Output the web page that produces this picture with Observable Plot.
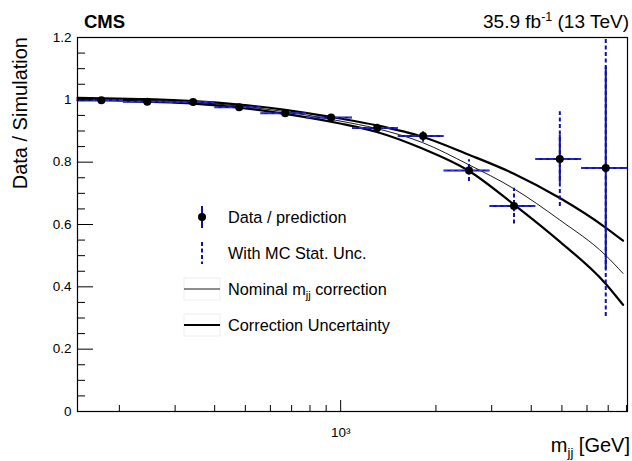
<!DOCTYPE html>
<html><head><meta charset="utf-8">
<script src="https://cdn.jsdelivr.net/npm/d3@7"></script>
<script src="https://cdn.jsdelivr.net/npm/@observablehq/plot@0.6"></script>
<style>
body{margin:0;background:#fff;}
#chart svg{font-family:"Liberation Sans",Arial,Helvetica,sans-serif;}
</style>
</head><body><div id="chart"></div>
<script>
// ---- data ----
const binLow    = [147.5, 206, 287.5, 401, 560, 781, 1090, 1521, 2122, 2962, 4134, 5770];
const binHigh   = [206, 287.5, 401, 560, 781, 1090, 1521, 2122, 2962, 4134, 5770, 8055];
const binCenter = [175.5, 245, 342, 478, 668, 933, 1304, 1821, 2543, 3528, 4924, 6877];
const ratio     = [0.999, 0.994, 0.993, 0.976, 0.957, 0.943, 0.910, 0.884, 0.773, 0.659, 0.810, 0.781];
const dataErr   = [0.002, 0.002, 0.003, 0.004, 0.005, 0.006, 0.008, 0.010, 0.012, 0.018, 0.077, 0.325];
const mcErr     = [0.003, 0.003, 0.004, 0.005, 0.007, 0.009, 0.012, 0.020, 0.035, 0.057, 0.152, 0.476];

const curveMass    = [147.5, 175.5, 245, 342, 478, 668, 996, 1301, 1812, 2530, 3512, 4924, 6850, 7797];
const curveUpper   = [1.006, 1.005, 1.002, 0.996, 0.985, 0.968, 0.940, 0.918, 0.8816, 0.8246, 0.7638, 0.6848, 0.591, 0.548];
const curveNominal = [1.003, 1.002, 0.998, 0.992, 0.980, 0.962, 0.932, 0.9078, 0.863, 0.7926, 0.7158, 0.6144, 0.5024, 0.4432];
const curveLower   = [0.999, 0.999, 0.994, 0.988, 0.975, 0.955, 0.924, 0.897, 0.8438, 0.7734, 0.6656, 0.545, 0.4118, 0.3424];

const yMajor = [0, 0.2, 0.4, 0.6, 0.8, 1, 1.2];
const yMinor = [0.05,0.1,0.15,0.25,0.3,0.35,0.45,0.5,0.55,0.65,0.7,0.75,0.85,0.9,0.95,1.05,1.1,1.15];
const xMajor = [1000];
const xMajorLabels = ["10³"];
const xMinor = [200,300,400,500,600,700,800,900,2000,3000,4000,5000,6000,7000,8000];

const legendLabels = ["Data / prediction", "With MC Stat. Unc.", "Nominal m", "Correction Uncertainty"];

// ---- tables ----
const points = binCenter.map((x, i) => ({
  x, lo: binLow[i], hi: binHigh[i], y: ratio[i],
  dLo: ratio[i] - dataErr[i], dHi: ratio[i] + dataErr[i],
  mLo: ratio[i] - mcErr[i], mHi: ratio[i] + mcErr[i]
}));
const curves = curveMass.map((m, i) => ({m, up: curveUpper[i], nom: curveNominal[i], lo: curveLower[i]}));

const blue = "#1010a8";

const plot = Plot.plot({
  width: 632, height: 461,
  marginLeft: 77, marginRight: 5, marginTop: 37, marginBottom: 50,
  x: {type: "log", domain: [147.5, 8055]},
  y: {domain: [0, 1.2]},
  style: {fontFamily: "'Liberation Sans', Arial, sans-serif", fontSize: "13.5px", color: "#000"},
  marks: [
    Plot.line(curves, {x: "m", y: "up", stroke: "#000", strokeWidth: 2.2, curve: "monotone-x"}),
    Plot.line(curves, {x: "m", y: "lo", stroke: "#000", strokeWidth: 2.2, curve: "monotone-x"}),
    Plot.line(curves, {x: "m", y: "nom", stroke: "#000", strokeWidth: 0.9, curve: "monotone-x"}),
    Plot.ruleY(points, {y: "y", x1: "lo", x2: "hi", stroke: blue, strokeWidth: 2}),
    Plot.ruleY(points, {y: "y", x1: "lo", x2: "hi", stroke: "#3a3aff", strokeWidth: 1, strokeDasharray: "4,3"}),
    Plot.ruleX(points, {x: "x", y1: "mLo", y2: "mHi", stroke: blue, strokeWidth: 2, strokeDasharray: "4,2.5", clip: true}),
    Plot.ruleX(points, {x: "x", y1: "dLo", y2: "dHi", stroke: blue, strokeWidth: 2, clip: true}),
    Plot.dot(points, {x: "x", y: "y", r: 4, fill: "#000", stroke: "none"}),
    Plot.axisY({ticks: yMajor, tickSize: -16, tickFormat: () => "", strokeWidth: 1}),
    Plot.axisY({ticks: yMinor, tickSize: -8, tickFormat: () => "", strokeWidth: 1}),
    Plot.axisY({ticks: yMajor, tickSize: 0, tickPadding: 6, tickFormat: d => d3.format("")(d)}),
    Plot.axisX({ticks: xMajor, tickSize: -11, tickFormat: () => "", strokeWidth: 1}),
    Plot.axisX({ticks: xMinor, tickSize: -6, tickFormat: () => "", strokeWidth: 1}),
    Plot.axisX({ticks: xMajor, tickSize: 0, tickPadding: 16, tickFormat: d => xMajorLabels[xMajor.indexOf(d)]}),
    Plot.frame({stroke: "#000", strokeWidth: 1.2})
  ]
});
document.getElementById("chart").appendChild(plot);

// ---- annotations & legend ----
const svg = d3.select(plot);
const font = "'Liberation Sans', Arial, sans-serif";
svg.append("text").attr("x", 84).attr("y", 28).attr("text-anchor", "start").attr("font-weight", "bold")
  .attr("font-size", 18.5).attr("font-family", font).text("CMS");
const lumi = svg.append("text").attr("x", 629).attr("y", 28).attr("text-anchor", "end")
  .attr("font-size", 19).attr("font-family", font);
lumi.append("tspan").text("35.9 fb");
lumi.append("tspan").attr("dy", -7).attr("font-size", 12.5).text("-1");
lumi.append("tspan").attr("dy", 7).text(" (13 TeV)");

svg.append("text").attr("transform", "translate(27,37) rotate(-90)").attr("text-anchor", "end")
  .attr("font-size", 20).attr("font-family", font).text("Data / Simulation");
const xl = svg.append("text").attr("x", 630).attr("y", 452).attr("text-anchor", "end")
  .attr("font-size", 20).attr("font-family", font);
xl.append("tspan").text("m");
xl.append("tspan").attr("dy", 5).attr("font-size", 13).text("jj");
xl.append("tspan").attr("dy", -5).text(" [GeV]");

const lg = svg.append("g").attr("font-family", font).attr("font-size", 16.3).attr("text-anchor", "start");
const rowY = [217, 253, 289, 325];
lg.append("line").attr("x1", 202).attr("x2", 202).attr("y1", rowY[0] - 11).attr("y2", rowY[0] + 11)
  .attr("stroke", blue).attr("stroke-width", 2);
lg.append("circle").attr("cx", 202).attr("cy", rowY[0]).attr("r", 4).attr("fill", "#000");
lg.append("line").attr("x1", 202).attr("x2", 202).attr("y1", rowY[1] - 11).attr("y2", rowY[1] + 11)
  .attr("stroke", blue).attr("stroke-width", 2).attr("stroke-dasharray", "4,2.5");
[[rowY[2], 0.9], [rowY[3], 2.2]].forEach(([y, w]) => {
  lg.append("rect").attr("x", 184).attr("y", y - 11).attr("width", 36).attr("height", 22)
    .attr("fill", "none").attr("stroke", "#eee").attr("stroke-width", 1);
  lg.append("line").attr("x1", 184).attr("x2", 220).attr("y1", y).attr("y2", y)
    .attr("stroke", "#000").attr("stroke-width", w);
});
legendLabels.forEach((t, i) => {
  const tx = lg.append("text").attr("x", 228).attr("y", rowY[i] + 6);
  if (i === 2) {
    tx.append("tspan").text(t);
    tx.append("tspan").attr("dy", 4).attr("font-size", 11).text("jj");
    tx.append("tspan").attr("dy", -4).text(" correction");
  } else tx.text(t);
});
</script>
</body></html>
